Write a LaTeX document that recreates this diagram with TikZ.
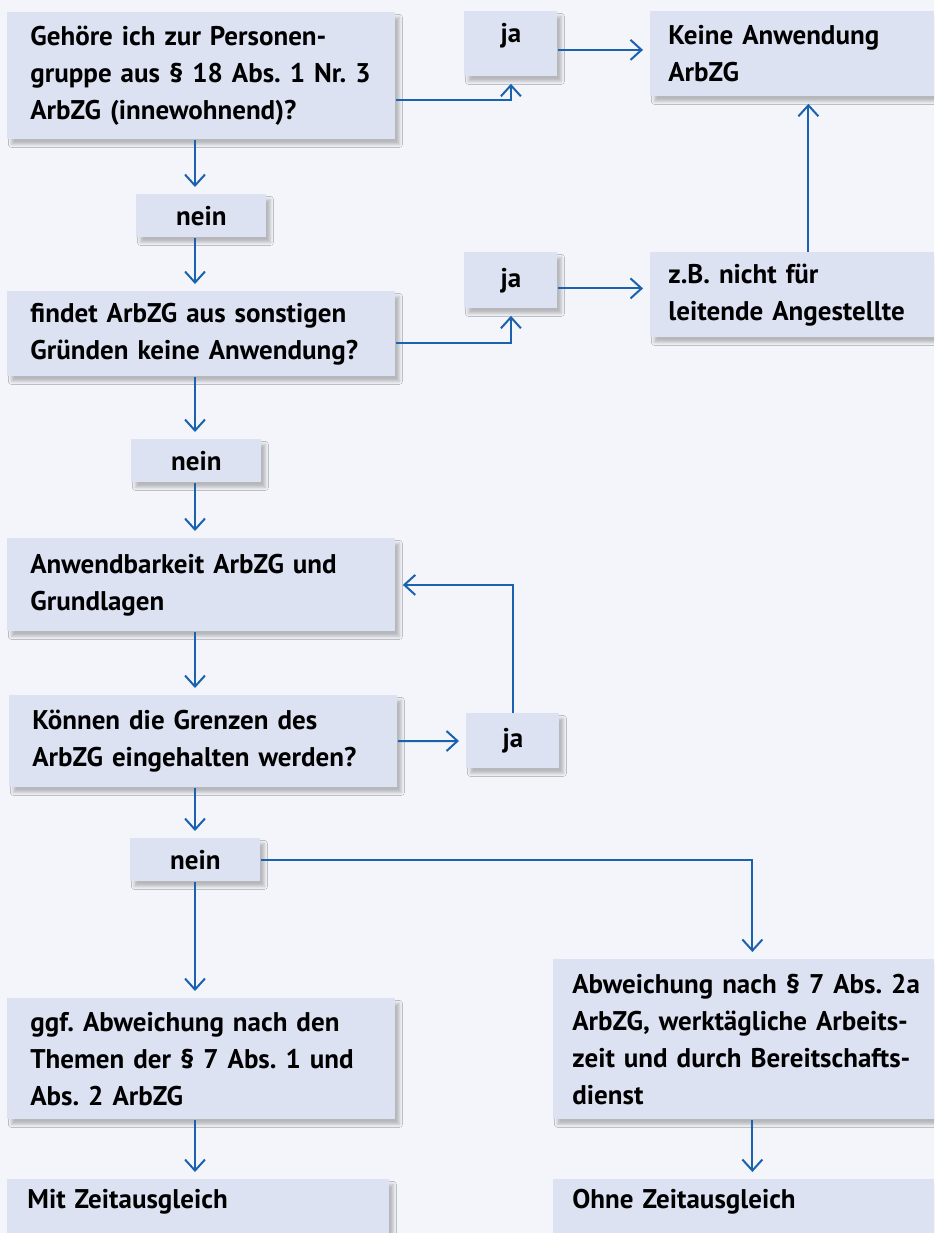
\documentclass[tikz,border=0pt]{standalone}
\usepackage{fontspec}
\setmainfont{PT Sans}
\usepackage{tikz}
\usetikzlibrary{arrows.meta,positioning,shadows.blur}
\definecolor{bgcol}{HTML}{F3F5FA}
\definecolor{boxcol}{HTML}{DDE2F3}
\definecolor{linecol}{HTML}{1A62AD}
\frenchspacing
\tikzset{font=\bfseries\fontsize{13.5pt}{18.5pt}\selectfont}
\tikzset{box/.style={rectangle, fill=boxcol, anchor=north west, inner ysep=0pt,
    blur shadow={shadow xshift=2pt, shadow yshift=-2.5pt, shadow blur radius=1.5pt, shadow opacity=25}}}
\tikzset{qbox/.style={box, align=left, text width=171pt, inner xsep=11.5pt, minimum height=#1}}
\tikzset{rbox/.style={box, align=left, text width=140pt, inner xsep=9pt, minimum height=#1}}
\tikzset{wbox/.style={box, align=left, text width=180pt, inner xsep=9.5pt, minimum height=#1}}
\tikzset{jabox/.style={box, align=center, inner xsep=0pt, minimum width=46.5pt, minimum height=#1}}
\tikzset{neinbox/.style={box, align=center, inner xsep=0pt, minimum width=65pt, minimum height=21.5pt}}
\tikzset{arr/.style={draw=linecol, line width=1pt, shorten >=3.5pt,
    -{Straight Barb[length=5.5pt, width=10pt]}}}

\begin{document}
\begin{tikzpicture}[x=0.5pt, y=-0.5pt]
  \useasboundingbox (0,0) rectangle (934,1233);
  \clip (0,0) rectangle (934,1233);
  \fill[bgcol] (0,0) rectangle (934,1233);
  \coordinate (col) at (195,0);

  % left column
  \node[qbox=63.5pt] (q1) at (7,12) {Gehöre ich zur Personen-\\gruppe aus § 18 Abs. 1 Nr. 3\\ArbZG (innewohnend)?};
  \node[neinbox] (nein1) at (136,194) {nein};
  \node[qbox=42.5pt] (q2) at (7,291) {findet ArbZG aus sonstigen\\Gründen keine Anwendung?};
  \node[neinbox] (nein2) at (131,439) {nein};
  \node[qbox=46.5pt] (grund) at (7,538) {Anwendbarkeit ArbZG und\\Grundlagen};
  \node[qbox=46pt] (q3) at (9,695) {Können die Grenzen des\\ArbZG eingehalten werden?};
  \node[neinbox] (nein3) at (130,838) {nein};
  \node[qbox=60.5pt] (ggf) at (7,998) {ggf. Abweichung nach den\\Themen der § 7 Abs. 1 und\\Abs. 2 ArbZG};
  \node[box, align=left, text width=171pt, inner xsep=10pt, text height=14.5pt, text depth=21pt] (mit) at (7,1179) {Mit Zeitausgleich};

  % ja boxes
  \node[jabox, text height=15.5pt, text depth=17pt] (ja1) at (464,11) {ja};
  \node[jabox=28pt] (ja2) at (464,252) {ja};
  \node[jabox=27.5pt] (ja3) at (466,713) {ja};

  % right column
  \node[rbox=42.5pt] (keine) at (650,11) {Keine Anwendung\\ArbZG};
  \node[rbox=42.5pt] (zb) at (650,252) {z.B. nicht für\\leitende Angestellte};
  \node[wbox=80pt] (abw) at (553,959) {Abweichung nach § 7 Abs. 2a\\ArbZG, werktägliche Arbeits-\\zeit und durch Bereitschafts-\\dienst};
  \node[box, align=left, text width=180pt, inner xsep=9.5pt, text height=14.5pt, text depth=21pt] (ohne) at (553,1179) {Ohne Zeitausgleich};

  % connectors
  \draw[arr] ([yshift=-12.25pt]q1.east) -| (ja1.south);
  \draw[arr] ([yshift=-3pt]ja1.east) -- ([yshift=-3pt]ja1.east -| keine.west);
  \draw[arr] (q1.south -| col) -- (nein1.north -| col);
  \draw[arr] (nein1.south -| col) -- (q2.north -| col);
  \draw[arr] ([yshift=-4.75pt]q2.east) -| (ja2.south);
  \draw[arr] ([yshift=-4pt]ja2.east) -- ([yshift=-4pt]ja2.east -| zb.west);
  \draw[arr] (zb.north) -- (keine.south);
  \draw[arr] (q2.south -| col) -- (nein2.north -| col);
  \draw[arr] (nein2.south -| col) -- (grund.north -| col);
  \draw[arr] (grund.south -| col) -- (q3.north -| col);
  \draw[arr] (q3) -- (ja3);
  \draw[arr] (ja3.north) |- (grund.east);
  \draw[arr] (q3.south -| col) -- (nein3.north -| col);
  \draw[arr] (nein3.east) -| (abw.north);
  \draw[arr] (nein3.south -| col) -- (ggf.north -| col);
  \draw[arr] (ggf.south -| col) -- (mit.north -| col);
  \draw[arr] (abw) -- (ohne);
\end{tikzpicture}
\end{document}
